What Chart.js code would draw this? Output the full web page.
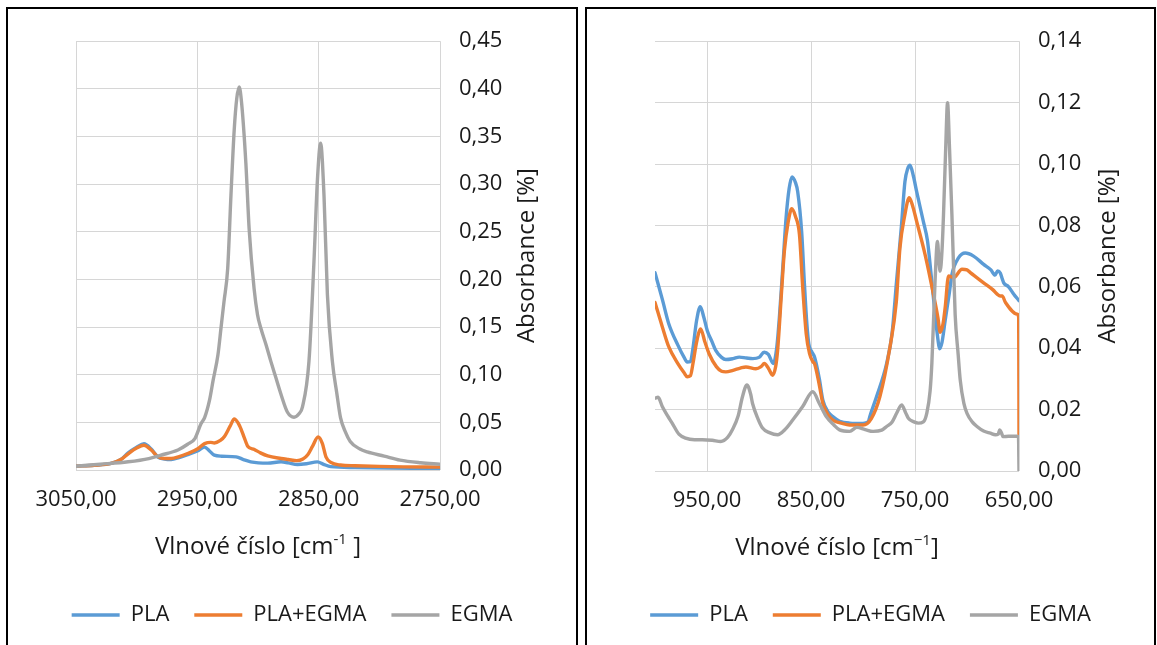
<!DOCTYPE html>
<html lang="cs">
<head>
<meta charset="utf-8">
<title>FTIR spektra PLA, PLA+EGMA a EGMA</title>
<script src="https://cdn.jsdelivr.net/npm/chart.js@4.4.1/dist/chart.umd.min.js"></script>
<style>
  html, body { margin: 0; padding: 0; background: #fff; width: 1157px; height: 645px; overflow: hidden; }
  .panel { position: absolute; top: 7px; height: 660px; border: 2px solid #000; box-sizing: border-box; }
  #panelCH { left: 6px; width: 572px; }
  #panelFP { left: 585px; width: 571px; }
  .panel canvas { position: absolute; left: 0; top: 0; }
</style>
</head>
<body>
<div class="panel" id="panelCH"><canvas id="chartCH" width="568" height="640"></canvas></div>
<div class="panel" id="panelFP"><canvas id="chartFP" width="567" height="640"></canvas></div>
<script>
// ---- C–H stretching region (3050–2750 cm-1) ----
const chWavePLA = [3050, 3035, 3021, 3013, 3007, 3000, 2994, 2988, 2982.5, 2977, 2971.5, 2965, 2958, 2950, 2944, 2940, 2936, 2930, 2918, 2912, 2906, 2892, 2881, 2875, 2867.5, 2860, 2851, 2846, 2840, 2820, 2790, 2750];
const chPLA = [0.004, 0.005, 0.007, 0.011, 0.018, 0.024, 0.0275, 0.022, 0.0135, 0.0115, 0.011, 0.013, 0.016, 0.020, 0.024, 0.020, 0.0156, 0.0145, 0.0138, 0.011, 0.0086, 0.0072, 0.0086, 0.0075, 0.0058, 0.0066, 0.0085, 0.006, 0.0036, 0.0026, 0.002, 0.0015];

const chWaveBlend = [3050, 3035, 3021, 3013, 3007, 3000, 2994, 2988, 2982.5, 2977, 2971.5, 2965, 2958, 2950, 2944, 2939, 2936, 2931, 2927.5, 2923, 2919.5, 2915, 2911.5, 2908.5, 2903, 2898, 2892, 2881, 2875, 2868, 2863, 2859, 2855, 2850.5, 2847, 2844, 2840, 2832, 2820, 2800, 2780, 2750];
const chBlend = [0.004, 0.005, 0.007, 0.011, 0.017, 0.023, 0.026, 0.021, 0.014, 0.012, 0.012, 0.014, 0.0173, 0.022, 0.0277, 0.029, 0.0284, 0.031, 0.0355, 0.046, 0.0535, 0.046, 0.0346, 0.025, 0.0215, 0.018, 0.0148, 0.0121, 0.011, 0.0098, 0.0115, 0.016, 0.025, 0.0346, 0.028, 0.0138, 0.008, 0.0052, 0.0045, 0.0038, 0.0033, 0.003];

const chWaveEGMA = [3050, 3030, 3007, 2990, 2980, 2966, 2958, 2952, 2947, 2944, 2940, 2937, 2933, 2930.5, 2928, 2925, 2922.3, 2919.6, 2917.5, 2915.5, 2913.5, 2910, 2907.3, 2903.2, 2900.4, 2897.7, 2893.5, 2889.4, 2885.3, 2881.2, 2875.7, 2870.3, 2866.2, 2863.4, 2858, 2853.9, 2851, 2848.4, 2845.6, 2842.8, 2838.7, 2835, 2832, 2828, 2824, 2816, 2810, 2796, 2783, 2766, 2750];
const chEGMA = [0.004, 0.006, 0.0086, 0.012, 0.0156, 0.021, 0.027, 0.033, 0.0485, 0.055, 0.073, 0.094, 0.121, 0.149, 0.177, 0.211, 0.288, 0.357, 0.39, 0.402, 0.385, 0.322, 0.253, 0.19, 0.163, 0.149, 0.132, 0.114, 0.097, 0.080, 0.0606, 0.0554, 0.059, 0.066, 0.114, 0.218, 0.305, 0.343, 0.288, 0.184, 0.114, 0.080, 0.055, 0.040, 0.030, 0.022, 0.019, 0.0146, 0.0104, 0.0076, 0.006];

const chWaveTicks = [3050, 2950, 2850, 2750];
const chAbsTicks = [0, 0.05, 0.10, 0.15, 0.20, 0.25, 0.30, 0.35, 0.40, 0.45];

// ---- fingerprint region (1000–650 cm-1) ----
const fpWavePLA = [1000, 993, 986.7, 978, 972, 969, 966, 963.5, 960, 956.5, 953, 949.7, 945, 941.6, 936, 931.9, 925, 919, 912, 906, 900, 895, 891, 886.2, 883, 880.4, 877, 874, 871, 868.2, 865, 862.8, 859, 856.3, 854, 852.1, 849.5, 846.6, 842, 838.6, 833, 828.9, 822.5, 812.8, 800, 795, 793.5, 787, 777.3, 772, 767.7, 763, 759.7, 757, 754.8, 751.5, 748.4, 742, 738, 735.5, 730.7, 728, 726.5, 724, 721, 717, 714.5, 708.2, 701.7, 693.7, 684, 677, 673, 670.5, 668, 666, 664.7, 660, 655, 650];
const fpPLA = [0.0646, 0.056, 0.0479, 0.041, 0.037, 0.0355, 0.0356, 0.040, 0.049, 0.0535, 0.050, 0.0457, 0.042, 0.0393, 0.037, 0.0363, 0.0366, 0.0371, 0.0368, 0.0366, 0.037, 0.0387, 0.038, 0.035, 0.040, 0.050, 0.067, 0.0823, 0.092, 0.0958, 0.094, 0.091, 0.078, 0.0608, 0.048, 0.0414, 0.039, 0.0371, 0.030, 0.0231, 0.019, 0.0177, 0.0162, 0.0156, 0.0155, 0.016, 0.0177, 0.0242, 0.035, 0.045, 0.0619, 0.080, 0.0942, 0.0985, 0.0996, 0.096, 0.091, 0.0813, 0.075, 0.0673, 0.0511, 0.043, 0.0398, 0.042, 0.049, 0.058, 0.064, 0.0694, 0.071, 0.070, 0.0673, 0.0655, 0.0638, 0.0652, 0.0645, 0.0625, 0.0613, 0.060, 0.0576, 0.0555];

const fpWaveBlend = [1000, 993, 986.7, 978, 972, 969, 966, 963.5, 960, 956.1, 952, 948, 941, 936, 931.9, 925, 918, 912.6, 903, 898, 894.9, 891, 886.9, 884, 882.1, 878, 875.6, 872, 868.5, 865, 861.1, 858, 854.6, 851.4, 848, 846.6, 842, 838.6, 833, 828.9, 820, 812.8, 800, 792, 783.8, 774.1, 768, 764.5, 760, 755.5, 752, 748.4, 740.3, 732.3, 728, 725.8, 723, 721, 717.7, 712.9, 704.8, 700, 696.8, 684, 675, 671, 668, 666.2, 663, 651.7, 650.3, 650];
const fpBlend = [0.0549, 0.047, 0.0404, 0.035, 0.032, 0.0307, 0.031, 0.035, 0.042, 0.0463, 0.042, 0.0382, 0.034, 0.0325, 0.0323, 0.0328, 0.0335, 0.0339, 0.0333, 0.034, 0.035, 0.0335, 0.0312, 0.034, 0.0393, 0.060, 0.0716, 0.081, 0.0854, 0.083, 0.077, 0.060, 0.0447, 0.0382, 0.0355, 0.035, 0.028, 0.022, 0.018, 0.0166, 0.0155, 0.015, 0.015, 0.0171, 0.0242, 0.0403, 0.055, 0.0726, 0.083, 0.089, 0.086, 0.0813, 0.0705, 0.0576, 0.050, 0.0452, 0.048, 0.0532, 0.0635, 0.063, 0.0657, 0.0655, 0.0646, 0.0613, 0.059, 0.0576, 0.057, 0.057, 0.0549, 0.0511, 0.050, 0.012];

const fpWaveEGMA = [1000, 997, 993, 988, 983.5, 977, 970.6, 962, 954.5, 945, 936.8, 930, 925.6, 920, 915.9, 911.6, 908, 906.2, 901, 896.6, 890, 882.1, 875, 867.6, 858, 848.3, 842, 835.3, 828, 822.5, 812.8, 806, 798, 790.3, 782, 777.3, 772, 767.7, 762.8, 759, 756.4, 751, 746.8, 742, 738.7, 735.5, 733.8, 730.7, 728.4, 726.9, 725.8, 724, 722.6, 720.5, 718.7, 716.8, 714.5, 711.4, 708.5, 706.5, 703, 700, 695, 690.4, 684, 677.5, 672.7, 670, 668.5, 667, 665.3, 660, 651.7, 650.5, 650];
const fpEGMA = [0.0237, 0.0240, 0.021, 0.018, 0.0156, 0.012, 0.0107, 0.0102, 0.0102, 0.0100, 0.0096, 0.011, 0.0134, 0.018, 0.0242, 0.028, 0.025, 0.022, 0.017, 0.014, 0.0125, 0.0118, 0.0135, 0.0166, 0.021, 0.0258, 0.022, 0.0177, 0.015, 0.0134, 0.0129, 0.0142, 0.0135, 0.0129, 0.0133, 0.0145, 0.016, 0.0188, 0.0215, 0.019, 0.0172, 0.016, 0.0156, 0.016, 0.0188, 0.026, 0.035, 0.0619, 0.0748, 0.068, 0.0651, 0.072, 0.0834, 0.105, 0.12, 0.105, 0.0834, 0.051, 0.038, 0.0296, 0.022, 0.0188, 0.016, 0.0145, 0.013, 0.0123, 0.0118, 0.012, 0.0134, 0.0125, 0.0112, 0.0113, 0.0113, 0.0112, 0];

const fpWaveTicks = [950, 850, 750, 650];
const fpAbsTicks = [0, 0.02, 0.04, 0.06, 0.08, 0.10, 0.12, 0.14];

const seriesLabels = ['PLA', 'PLA+EGMA', 'EGMA'];
const seriesColors = ['#5B9BD5', '#ED7D31', '#A5A5A5'];

// ---- helpers ----
const FONT = "'Open Sans', 'DejaVu Sans', sans-serif";
const TEXT = '#1a1a1a';
const GRID = '#d6d6d6';
const TICK_SIZE = 22;
const fmt = v => Number(v).toFixed(2).replace('.', ',');
const points = (xs, ys) => xs.map((x, i) => ({ x, y: ys[i] }));

Chart.defaults.font.family = FONT;

// Axis titles: the y title reads bottom-to-top beside the right-hand axis,
// the x title carries a raised exponent in the unit.
const axisTitles = {
  id: 'axisTitles',
  afterDraw(chart, _args, o) {
    const { ctx, chartArea: a } = chart;
    const base = `${o.size}px ${FONT}`;
    const sup = `${Math.round(o.size * 0.62)}px ${FONT}`;

    ctx.save();
    ctx.fillStyle = TEXT;
    ctx.font = base;
    ctx.textAlign = 'center';
    ctx.textBaseline = 'middle';
    ctx.translate(o.yTitleX, (a.top + a.bottom) / 2);
    ctx.rotate(-Math.PI / 2);
    ctx.fillText(o.yTitle, 0, 0);
    ctx.restore();

    ctx.save();
    ctx.fillStyle = TEXT;
    ctx.textAlign = 'left';
    ctx.textBaseline = 'alphabetic';
    const widths = o.xTitle.map(p => { ctx.font = p.sup ? sup : base; return ctx.measureText(p.text).width; });
    const total = widths.reduce((s, w) => s + w, 0);
    let x = (a.left + a.right) / 2 - total / 2;
    const y = a.bottom + o.xTitleOffset;
    o.xTitle.forEach((p, i) => {
      ctx.font = p.sup ? sup : base;
      ctx.fillText(p.text, x, p.sup ? y - o.size * 0.42 : y);
      x += widths[i];
    });
    ctx.restore();
  }
};

function buildPanel(canvasId, cfg) {
  const datasets = cfg.series.map((s, i) => ({
    label: seriesLabels[i],
    data: points(s[0], s[1]),
    borderColor: seriesColors[i],
    backgroundColor: seriesColors[i],
    borderWidth: 3.4,
    borderCapStyle: 'round',
    borderJoinStyle: 'round',
    pointRadius: 0,
    fill: false,
    cubicInterpolationMode: 'monotone',
    order: cfg.series.length - i
  }));

  return new Chart(document.getElementById(canvasId), {
    type: 'line',
    data: { datasets },
    options: {
      responsive: false,
      animation: false,
      events: [],
      layout: { padding: { left: 0, right: 0, top: cfg.padTop, bottom: 13 } },
      scales: {
        x: {
          type: 'linear',
          reverse: true,
          min: cfg.xMin,
          max: cfg.xMax,
          afterBuildTicks: sc => { sc.ticks = cfg.xTicks.map(v => ({ value: v })); },
          afterFit: sc => { sc.height = cfg.xHeight; },
          grid: { color: GRID, lineWidth: 1, drawTicks: false },
          border: { display: false },
          ticks: { font: { size: TICK_SIZE }, color: TEXT, padding: 17, maxRotation: 0, autoSkip: false, callback: v => fmt(v) }
        },
        y: {
          position: 'right',
          min: 0,
          max: cfg.yMax,
          afterBuildTicks: sc => { sc.ticks = cfg.yTicks.map(v => ({ value: v })); },
          afterFit: sc => { sc.width = cfg.yWidth; },
          grid: { color: GRID, lineWidth: 1, drawTicks: false },
          border: { display: false },
          ticks: { font: { size: TICK_SIZE }, color: TEXT, padding: 19, callback: v => fmt(v) }
        },
        // empty left margin so the plot sits where it should while the legend stays centred on the panel
        gutter: {
          position: 'left',
          grid: { display: false },
          border: { display: false },
          ticks: { display: false },
          afterFit: sc => { sc.width = 68; }
        }
      },
      plugins: {
        tooltip: { enabled: false },
        legend: {
          position: 'bottom',
          labels: {
            usePointStyle: true,
            pointStyle: 'line',
            pointStyleWidth: 48,
            padding: 25,
            color: TEXT,
            font: { size: TICK_SIZE },
            sort: (a, b) => a.datasetIndex - b.datasetIndex
          }
        },
        axisTitles: {
          size: 24,
          yTitle: 'Absorbance [%]',
          yTitleX: cfg.yTitleX,
          xTitle: cfg.xTitle,
          xTitleOffset: 84
        }
      }
    },
    plugins: [axisTitles]
  });
}

buildPanel('chartCH', {
  series: [[chWavePLA, chPLA], [chWaveBlend, chBlend], [chWaveEGMA, chEGMA]],
  xMin: 2750, xMax: 3050, xTicks: chWaveTicks,
  yMax: 0.45, yTicks: chAbsTicks,
  padTop: 28, xHeight: 109, yWidth: 136, yTitleX: 519,
  xTitle: [{ text: 'Vlnové číslo [cm' }, { text: '-1', sup: true }, { text: ' ]' }]
});

buildPanel('chartFP', {
  series: [[fpWavePLA, fpPLA], [fpWaveBlend, fpBlend], [fpWaveEGMA, fpEGMA]],
  xMin: 650, xMax: 1000, xTicks: fpWaveTicks,
  yMax: 0.14, yTicks: fpAbsTicks,
  padTop: 29, xHeight: 108, yWidth: 135, yTitleX: 521,
  xTitle: [{ text: 'Vlnové číslo [cm' }, { text: '\u22121', sup: true }, { text: ']' }]
});
</script>
</body>
</html>
